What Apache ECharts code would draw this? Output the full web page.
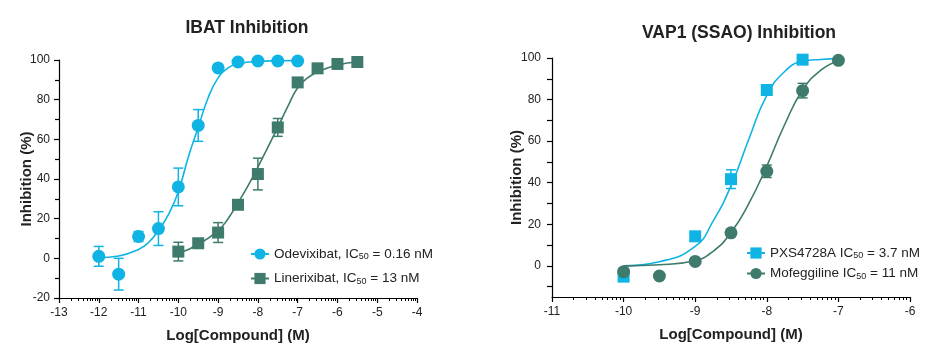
<!DOCTYPE html>
<html>
<head>
<meta charset="utf-8">
<script src="https://cdn.jsdelivr.net/npm/echarts@6/dist/echarts.min.js"></script>
<style>html,body{margin:0;padding:0;background:#fff;}#c{width:944px;height:359px;}</style>
</head>
<body>
<div id="c"></div>
<script>
// ---------- Data ----------
const leftTitle = 'IBAT Inhibition';
const rightTitle = 'VAP1 (SSAO) Inhibition';
const xName = 'Log[Compound] (M)';
const yName = 'Inhibition (%)';

const leftXTicks = [-13, -12, -11, -10, -9, -8, -7, -6, -5, -4];
const leftYTicks = [-20, 0, 20, 40, 60, 80, 100];
const rightXTicks = [-11, -10, -9, -8, -7, -6];
const rightYTicks = [0, 20, 40, 60, 80, 100];
const rightYMinorTicks = [-10, 0, 10, 20, 30, 40, 50, 60, 70, 80, 90, 100];

const odeName = 'Odevixibat, IC50 = 0.16 nM';
const odeX = [-12, -11.5, -11, -10.5, -10, -9.5, -9, -8.5, -8, -7.5, -7];
const odeY = [1, -8, 11, 15, 36, 67, 96, 99, 99.5, 99.5, 99.5];
const odeErr = [5, 8, 2.5, 8.5, 9.5, 8, 0, 0, 0, 0, 0];
const odeCurveX = [-12, -11.5, -11, -10.75, -10.5, -10.25, -10, -9.75, -9.5, -9.25, -9, -8.75, -8.5, -8, -7.5, -7];
const odeCurveY = [0.3, 1.2, 4.5, 8, 14, 22, 33.6, 51, 66, 81, 91, 96, 98, 99.3, 99.6, 99.7];

const linName = 'Linerixibat, IC50 = 13 nM';
const linX = [-10, -9.5, -9, -8.5, -8, -7.5, -7, -6.5, -6, -5.5];
const linY = [3.4, 7.6, 13, 27, 42.5, 66, 88.7, 95.8, 98, 99];
const linErr = [4.7, 0, 5, 0, 8, 4.5, 0, 0, 0, 0];
const linCurveX = [-10, -9.5, -9, -8.75, -8.5, -8.25, -8, -7.75, -7.5, -7.25, -7, -6.75, -6.5, -6, -5.5];
const linCurveY = [2.5, 7, 14, 20, 28, 36.5, 46, 56, 66, 76.5, 86, 91, 94, 97.5, 99];

const pxsName = 'PXS4728A IC50 = 3.7 nM';
const pxsX = [-10, -9, -8.5, -8, -7.5];
const pxsY = [-5.2, 14.2, 41.7, 84.6, 99.2];
const pxsErr = [0, 0, 4.5, 2, 0];
const pxsCurveX = [-10, -9.5, -9, -8.75, -8.5, -8.25, -8, -7.75, -7.5, -7.25, -7];
const pxsCurveY = [0, 2, 9.4, 21.5, 38.5, 61, 82, 93.5, 98.4, 99.3, 99.7];

const mofName = 'Mofeggiline IC50 = 11 nM';
const mofX = [-10, -9.5, -9, -8.5, -8, -7.5, -7];
const mofY = [-2.8, -4.9, 2.1, 15.9, 45.5, 84.3, 98.9];
const mofErr = [0, 0, 0, 0, 3, 3.5, 0];
const mofCurveX = [-10, -9.5, -9, -8.75, -8.5, -8.25, -8, -7.75, -7.5, -7.25, -7];
const mofCurveY = [0, 0.5, 2.6, 7, 16, 30, 48, 68, 84.6, 94, 98.7];

// ---------- Styling ----------
const CYAN = '#0FB4E4';
const GREEN = '#3E7B6C';
const FONT = 'Liberation Sans, Arial, sans-serif';
const TXT = '#222';

function zip(a, b) { return a.map((v, i) => [v, b[i]]); }
function errData(xs, ys, es) {
  const out = [];
  xs.forEach((x, i) => { if (es[i] > 0) out.push([x, ys[i] - es[i], ys[i] + es[i]]); });
  return out;
}
function logMinor(majors) {
  const out = [];
  for (let i = 0; i < majors.length - 1; i++) {
    for (let k = 2; k <= 9; k++) out.push(majors[i] + Math.log10(k));
  }
  return out;
}
function errRender(color) {
  return function (params, api) {
    const x = api.value(0), lo = api.value(1), hi = api.value(2);
    const a = api.coord([x, lo]), b = api.coord([x, hi]);
    const w = 5;
    const st = { stroke: color, lineWidth: 1.5 };
    return { type: 'group', children: [
      { type: 'line', shape: { x1: a[0], y1: a[1], x2: b[0], y2: b[1] }, style: st },
      { type: 'line', shape: { x1: a[0] - w, y1: a[1], x2: a[0] + w, y2: a[1] }, style: st },
      { type: 'line', shape: { x1: b[0] - w, y1: b[1], x2: b[0] + w, y2: b[1] }, style: st }
    ]};
  };
}

const axisLineStyle = { show: true, onZero: false, lineStyle: { color: '#000', width: 1.2 } };
const labelStyle = { color: TXT, fontSize: 12, fontFamily: FONT };
const nameStyle = { color: TXT, fontSize: 15, fontWeight: 'bold', fontFamily: FONT };

function mainX(gi, ticks) {
  return {
    type: 'value', gridIndex: gi, min: ticks[0], max: ticks[ticks.length - 1], interval: 1,
    position: 'bottom',
    axisLine: axisLineStyle,
    axisTick: { show: true, length: 5, lineStyle: { color: '#000', width: 1.2 } },
    axisLabel: Object.assign({ margin: 9 }, labelStyle),
    splitLine: { show: false },
    name: xName, nameLocation: 'middle', nameGap: 30, nameTextStyle: nameStyle
  };
}
function minorX(gi, ticks) {
  return {
    type: 'value', gridIndex: gi, min: ticks[0], max: ticks[ticks.length - 1],
    position: 'bottom',
    axisLine: { show: false, onZero: false },
    axisTick: { show: true, length: 3, customValues: logMinor(ticks), lineStyle: { color: '#000', width: 1 } },
    axisLabel: { show: false },
    splitLine: { show: false }
  };
}

const legendRich = { s: { fontSize: 9, fontFamily: FONT, color: TXT, padding: [6, 0, 0, 0] } };
function legendFmt(n) { return n.replace('IC50', 'IC{s|50}'); }

const option = {
  animation: false,
  backgroundColor: '#fff',
  title: [
    { text: leftTitle, left: 242, top: 14, textAlign: 'center',
      textStyle: { fontSize: 17.5, fontWeight: 'bold', color: TXT, fontFamily: FONT } },
    { text: rightTitle, left: 734, top: 19, textAlign: 'center',
      textStyle: { fontSize: 17.5, fontWeight: 'bold', color: TXT, fontFamily: FONT } }
  ],
  legend: [
    { orient: 'vertical', left: 250, top: 247, padding: 0, itemWidth: 18, itemHeight: 14, itemGap: 10,
      data: [odeName, linName], formatter: legendFmt,
      textStyle: { fontSize: 13.5, color: TXT, fontFamily: FONT, rich: legendRich } },
    { orient: 'vertical', left: 746, top: 246, padding: 0, itemWidth: 18, itemHeight: 14, itemGap: 6,
      data: [pxsName, mofName], formatter: legendFmt,
      textStyle: { fontSize: 13.5, color: TXT, fontFamily: FONT, rich: legendRich } }
  ],
  grid: [
    { left: 59, right: 527, top: 60, bottom: 61, outerBoundsMode: 'none' },
    { left: 552, right: 34, top: 58, bottom: 62, outerBoundsMode: 'none' }
  ],
  xAxis: [
    mainX(0, leftXTicks), minorX(0, leftXTicks),
    mainX(1, rightXTicks), minorX(1, rightXTicks)
  ],
  yAxis: [
    { type: 'value', gridIndex: 0, min: leftYTicks[0], max: leftYTicks[leftYTicks.length - 1], interval: 20,
      axisLine: axisLineStyle,
      axisTick: { show: true, length: 5, lineStyle: { color: '#000', width: 1.2 } },
      minorTick: { show: true, splitNumber: 2, length: 4, lineStyle: { color: '#000', width: 1.2 } },
      axisLabel: Object.assign({ margin: 9 }, labelStyle),
      splitLine: { show: false },
      name: yName, nameLocation: 'middle', nameGap: 25, nameRotate: 90, nameMoveOverlap: false,
      nameTextStyle: nameStyle },
    { type: 'value', gridIndex: 1, min: -15, max: 100,
      axisLine: axisLineStyle,
      axisTick: { show: true, length: 5, customValues: rightYMinorTicks, lineStyle: { color: '#000', width: 1.2 } },
      axisLabel: Object.assign({ margin: 11, customValues: rightYTicks }, labelStyle),
      splitLine: { show: false },
      name: yName, nameLocation: 'middle', nameGap: 28, nameRotate: 90, nameMoveOverlap: false,
      nameTextStyle: nameStyle }
  ],
  series: [
    // curves (legend entries)
    { name: odeName, type: 'line', xAxisIndex: 0, yAxisIndex: 0, data: zip(odeCurveX, odeCurveY),
      smooth: true, showSymbol: false, symbol: 'circle', color: CYAN,
      lineStyle: { color: CYAN, width: 1.6 }, itemStyle: { color: CYAN } },
    { name: linName, type: 'line', xAxisIndex: 0, yAxisIndex: 0, data: zip(linCurveX, linCurveY),
      smooth: true, showSymbol: false, symbol: 'rect', color: GREEN,
      lineStyle: { color: GREEN, width: 1.6 }, itemStyle: { color: GREEN } },
    { name: pxsName, type: 'line', xAxisIndex: 2, yAxisIndex: 1, data: zip(pxsCurveX, pxsCurveY),
      smooth: true, showSymbol: false, symbol: 'rect', color: CYAN,
      lineStyle: { color: CYAN, width: 1.6 }, itemStyle: { color: CYAN } },
    { name: mofName, type: 'line', xAxisIndex: 2, yAxisIndex: 1, data: zip(mofCurveX, mofCurveY),
      smooth: true, showSymbol: false, symbol: 'circle', color: GREEN,
      lineStyle: { color: GREEN, width: 1.6 }, itemStyle: { color: GREEN } },
    // error bars
    { type: 'custom', xAxisIndex: 0, yAxisIndex: 0, renderItem: errRender(CYAN),
      data: errData(odeX, odeY, odeErr), encode: { x: 0, y: [1, 2] }, z: 3 },
    { type: 'custom', xAxisIndex: 0, yAxisIndex: 0, renderItem: errRender(GREEN),
      data: errData(linX, linY, linErr), encode: { x: 0, y: [1, 2] }, z: 3 },
    { type: 'custom', xAxisIndex: 2, yAxisIndex: 1, renderItem: errRender(CYAN),
      data: errData(pxsX, pxsY, pxsErr), encode: { x: 0, y: [1, 2] }, z: 3 },
    { type: 'custom', xAxisIndex: 2, yAxisIndex: 1, renderItem: errRender(GREEN),
      data: errData(mofX, mofY, mofErr), encode: { x: 0, y: [1, 2] }, z: 3 },
    // points
    { type: 'scatter', xAxisIndex: 0, yAxisIndex: 0, data: zip(odeX, odeY), symbol: 'circle', symbolSize: 13,
      itemStyle: { color: CYAN, opacity: 1 }, z: 4 },
    { type: 'scatter', xAxisIndex: 0, yAxisIndex: 0, data: zip(linX, linY), symbol: 'rect', symbolSize: 12,
      itemStyle: { color: GREEN, opacity: 1 }, z: 4 },
    { type: 'scatter', xAxisIndex: 2, yAxisIndex: 1, data: zip(pxsX, pxsY), symbol: 'rect', symbolSize: 12,
      itemStyle: { color: CYAN, opacity: 1 }, z: 4 },
    { type: 'scatter', xAxisIndex: 2, yAxisIndex: 1, data: zip(mofX, mofY), symbol: 'circle', symbolSize: 13,
      itemStyle: { color: GREEN, opacity: 1 }, z: 5 }
  ]
};

const chart = echarts.init(document.getElementById('c'), null, { renderer: 'canvas' });
chart.setOption(option);
</script>
</body>
</html>
